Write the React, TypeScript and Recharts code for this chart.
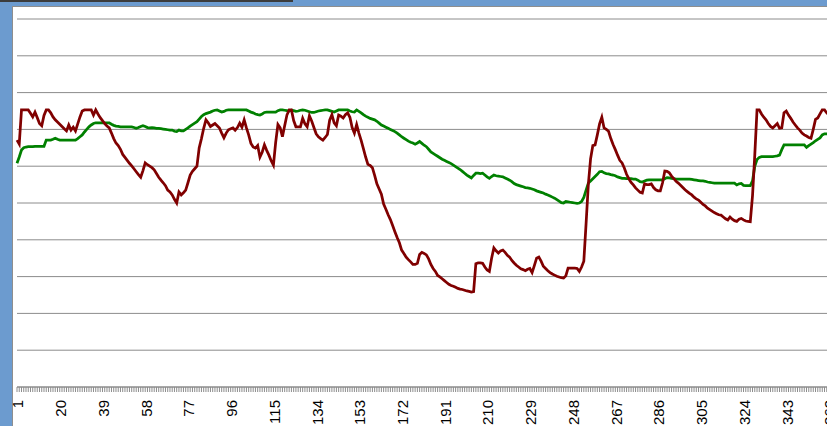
import { LineChart, Line, XAxis, YAxis, CartesianGrid } from "recharts";

// dark red series (value scale 0-100, one point per day)
const RED = [
  67.1, 66.0, 75.3, 75.3, 75.3, 75.3, 74.4, 73.4, 74.7, 73.2,
  71.6, 71.0, 73.8, 75.3, 75.3, 74.5, 73.4, 72.6, 72.0, 71.4,
  70.8, 70.2, 69.6, 71.2, 69.8, 70.6, 69.6, 71.5, 73.4, 75.0,
  75.3, 75.3, 75.3, 75.3, 73.9, 75.3, 74.2, 73.2, 72.4, 71.6,
  70.9, 70.4, 69.0, 67.5, 66.3, 65.6, 64.6, 63.2, 62.4, 61.6,
  60.8, 60.1, 59.3, 58.5, 57.7, 57.0, 58.8, 60.9, 60.4, 60.0,
  59.6, 59.0, 58.0, 57.0, 56.2, 55.5, 54.7, 53.5, 53.0, 52.2,
  51.0, 50.0, 53.0, 52.2, 52.8, 53.5, 55.5, 57.6, 58.6, 59.3,
  60.0, 65.0, 67.5, 70.3, 72.6, 71.8, 70.8, 71.2, 71.6, 71.0,
  70.4, 69.0, 67.7, 69.0, 69.9, 70.2, 70.4, 69.8, 70.5, 71.7,
  70.6, 72.6, 70.4, 68.5, 66.2, 65.2, 64.9, 65.6, 62.5, 63.8,
  65.8, 64.3, 63.0, 61.5, 60.3, 66.5, 71.3, 70.4, 68.0, 71.0,
  73.9, 75.3, 75.3, 72.4, 70.7, 70.7, 70.7, 73.0, 71.5, 70.7,
  73.7, 72.3, 70.5, 68.8, 68.0, 67.5, 67.1, 67.8, 68.6, 72.5,
  74.0, 71.8, 71.0, 73.9, 73.6, 73.1, 74.0, 74.5, 73.3, 70.5,
  69.0, 71.3, 69.0, 67.0, 64.8, 62.5, 60.5, 60.2, 59.6, 57.5,
  55.2, 53.8, 52.4, 49.7, 48.3, 46.8, 45.5, 43.9, 42.2, 40.6,
  39.2, 37.2, 36.3, 35.3, 34.6, 34.0, 33.3, 33.3, 33.6, 36.0,
  36.6, 36.3, 35.9, 34.8, 33.3, 32.2, 31.4, 30.3, 29.9, 29.4,
  28.9, 28.4, 27.9, 27.6, 27.4, 27.1, 26.8, 26.6, 26.5, 26.3,
  26.1, 26.0, 25.8, 25.9, 33.5, 33.7, 33.7, 33.6, 32.6, 31.8,
  31.4, 35.0, 37.8, 37.0, 36.4, 37.0, 37.2, 36.6, 35.8, 35.3,
  34.4, 33.7, 33.1, 32.6, 32.1, 31.9, 31.6, 32.0, 32.2, 31.1,
  33.0, 35.0, 35.3, 34.2, 32.8, 32.2, 31.6, 31.1, 30.7, 30.4,
  30.1, 29.9, 29.7, 29.6, 30.2, 32.3, 32.3, 32.3, 32.3, 32.2,
  31.4, 32.6, 34.2, 44.4, 55.0, 62.0, 65.6, 65.8, 68.5, 71.5,
  73.3, 70.4, 70.0, 69.5, 67.5, 65.9, 64.5, 63.0, 61.6, 60.9,
  59.5, 57.8, 56.6, 55.6, 54.9, 54.1, 53.5, 52.9, 52.7, 55.2,
  55.0, 55.0, 55.2, 54.2, 53.6, 53.3, 53.3, 55.5, 58.7, 58.6,
  58.2, 57.3, 56.6, 55.9, 55.4, 54.8, 54.2, 53.6, 53.1, 52.6,
  52.2, 51.6, 51.1, 50.8, 50.2, 49.6, 49.2, 48.6, 48.2, 47.8,
  47.4, 47.1, 46.8, 46.7, 46.2, 45.7, 45.4, 46.2, 45.6, 45.2,
  45.0, 45.6, 45.8, 45.4, 45.1, 45.0, 44.9, 52.0, 63.0, 75.3,
  75.3, 74.2, 73.3, 72.6, 71.6, 70.8, 70.4, 71.0, 71.6, 70.3,
  70.4, 74.5, 75.0, 73.9, 73.0, 72.0, 71.2, 70.4, 69.8, 69.0,
  68.5, 68.2, 67.8, 67.6, 70.0, 72.7, 73.1, 74.2, 75.3, 75.3,
  74.5, 73.9, 73.5, 73.2, 73.0, 72.8,
];

// green series
const GREEN = [
  60.8, 62.5, 64.4, 65.0, 65.2, 65.3, 65.3, 65.3, 65.4, 65.4,
  65.4, 65.4, 65.4, 67.1, 67.1, 67.1, 67.3, 67.6, 67.3, 67.1,
  67.1, 67.1, 67.1, 67.1, 67.1, 67.1, 67.1, 67.5, 68.0, 68.5,
  69.3, 70.0, 70.7, 71.2, 71.6, 71.8, 71.8, 71.8, 71.8, 71.8,
  71.8, 71.8, 71.4, 71.1, 70.9, 70.8, 70.7, 70.7, 70.7, 70.7,
  70.7, 70.7, 70.5, 70.3, 70.5, 70.8, 71.0, 70.8, 70.5, 70.4,
  70.5, 70.4, 70.3, 70.3, 70.2, 70.1, 70.0, 69.9, 69.8, 69.8,
  69.5, 69.4, 69.8, 69.6, 69.6, 70.0, 70.4, 70.9, 71.3, 71.7,
  72.1, 72.8, 73.5, 74.0, 74.3, 74.5, 74.7, 75.0, 75.2, 75.3,
  75.0, 74.7, 74.9, 75.2, 75.3, 75.3, 75.3, 75.3, 75.3, 75.3,
  75.3, 75.3, 75.3, 75.0, 74.7, 74.5, 74.2, 74.0, 73.9, 74.2,
  74.6, 74.7, 74.7, 74.7, 74.7, 74.7, 75.1, 75.3, 75.3, 75.2,
  75.1, 75.0, 75.2, 75.1, 74.9, 75.0, 75.2, 75.3, 75.2, 75.0,
  74.8, 74.6, 74.6, 74.8, 75.0, 75.1, 75.2, 75.3, 75.3, 75.1,
  74.9, 74.7, 75.0, 75.3, 75.3, 75.3, 75.3, 75.3, 75.0, 74.8,
  74.7, 75.3, 74.9, 74.5, 74.0, 73.6, 73.3, 73.0, 72.8, 72.6,
  72.2, 71.7, 71.2, 70.9, 70.6, 70.3, 70.0, 69.7, 69.4, 69.0,
  68.5, 68.0, 67.6, 67.2, 66.8, 66.5, 66.3, 66.0, 66.3, 66.7,
  66.2, 65.7, 65.3, 64.6, 63.9, 63.5, 63.1, 62.7, 62.3, 61.9,
  61.6, 61.3, 61.0, 60.7, 60.3, 59.9, 59.5, 59.1, 58.6, 58.1,
  57.6, 57.2, 56.8, 57.5, 58.1, 58.1, 58.0, 58.1, 57.6, 57.1,
  56.7, 57.2, 57.6, 57.4, 57.3, 57.2, 57.1, 56.8, 56.5, 56.2,
  55.8, 55.3, 55.0, 54.8, 54.6, 54.4, 54.2, 54.1, 54.0, 53.8,
  53.6, 53.3, 53.1, 52.9, 52.7, 52.4, 52.2, 51.9, 51.6, 51.3,
  50.9, 50.5, 50.1, 50.0, 50.4, 50.3, 50.2, 50.1, 50.0, 49.9,
  50.0, 50.4, 51.5, 53.5, 55.4, 56.0, 56.6, 57.2, 57.8, 58.5,
  58.6, 58.2, 58.0, 57.9, 57.7, 57.6, 57.4, 57.1, 56.9, 56.7,
  56.7, 56.6, 56.6, 56.6, 56.5, 56.5, 56.2, 55.8, 55.7, 56.0,
  56.2, 56.3, 56.3, 56.3, 56.3, 56.3, 56.3, 56.3, 56.6, 56.9,
  56.8, 56.7, 56.6, 56.5, 56.5, 56.5, 56.5, 56.5, 56.5, 56.5,
  56.4, 56.3, 56.2, 56.1, 56.0, 56.0, 55.9, 55.7, 55.6, 55.5,
  55.4, 55.4, 55.4, 55.4, 55.4, 55.4, 55.4, 55.4, 55.4, 55.4,
  54.9, 55.2, 55.3, 54.8, 54.7, 54.7, 54.7, 56.0, 60.0, 61.8,
  62.4, 62.6, 62.6, 62.6, 62.6, 62.6, 62.6, 62.7, 62.8, 63.0,
  64.5, 65.8, 65.8, 65.8, 65.8, 65.8, 65.8, 65.8, 65.8, 65.8,
  65.8, 65.1, 65.6, 66.0, 66.4, 66.9, 67.3, 67.7, 68.5, 68.8,
  68.8, 68.8, 68.8, 68.8, 68.8, 68.8,
];

const DAYS = RED.map((_, i) => i + 1);
const Y_TICKS = [0, 10, 20, 30, 40, 50, 60, 70, 80, 90, 100];

const data = DAYS.map((day, i) => ({
  day,
  red: RED[i],
  green: GREEN[i],
}));

// every category gets a tick mark, only every 19th gets a label
function DayTick(props: any) {
  const { x, y, payload } = props;
  if ((Number(payload.value) - 1) % 19 !== 0) return null;
  return (
    <text
      x={x + 1}
      y={y + 8}
      transform={`rotate(-90, ${x + 1}, ${y + 8})`}
      textAnchor="end"
      dy="0.36em"
      fontSize={15}
      fontFamily="'Liberation Sans', Arial, sans-serif"
      fill="#000"
    >
      {payload.value}
    </text>
  );
}

export default function App() {
  return (
    <div
      style={{
        position: "fixed",
        left: 0,
        top: 0,
        width: 827,
        height: 426,
        overflow: "hidden",
        background: "#6c9bcf",
      }}
    >
      <div
        style={{
          position: "absolute",
          left: 0,
          top: 0,
          width: 293,
          height: 2,
          background: "#3c3c3c",
        }}
      />
      <div
        style={{
          position: "absolute",
          left: 12,
          top: 6,
          width: 830,
          height: 440,
          background: "#fff",
          borderLeft: "1px solid #8e8e8e",
          borderTop: "1px solid #8e8e8e",
        }}
      />
      <div style={{ position: "absolute", left: 0, top: 0 }}>
        <LineChart
          width={838}
          height={440}
          data={data}
          margin={{ top: 19, right: 0, bottom: 0, left: 17 }}
        >
          <CartesianGrid vertical={false} stroke="#8c8c8c" strokeWidth={1} />
          <XAxis
            dataKey="day"
            type="category"
            interval={0}
            height={53}
            axisLine={{ stroke: "#8c8c8c" }}
            tickLine={{ stroke: "#8c8c8c" }}
            tickSize={5}
            tickMargin={0}
            tick={<DayTick />}
          />
          <YAxis hide domain={[0, 100]} ticks={Y_TICKS} />
          <Line
            dataKey="green"
            stroke="#008000"
            strokeWidth={2.75}
            dot={false}
            isAnimationActive={false}
          />
          <Line
            dataKey="red"
            stroke="#800000"
            strokeWidth={2.75}
            dot={false}
            isAnimationActive={false}
          />
        </LineChart>
      </div>
    </div>
  );
}
